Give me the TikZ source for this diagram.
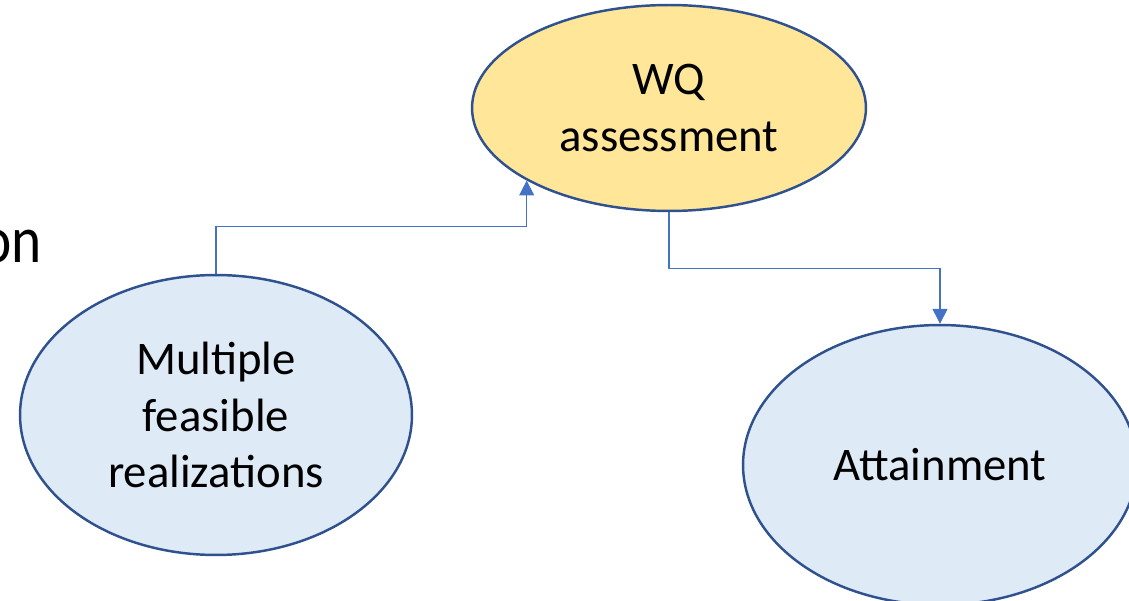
\documentclass[tikz,border=0pt]{standalone}
\usepackage{fontspec}
\setmainfont{Carlito}
\usetikzlibrary{arrows.meta,shapes.geometric}
\definecolor{wqfill}{HTML}{FFE699}
\definecolor{bluefill}{HTML}{DEEBF7}
\definecolor{edgeblue}{HTML}{2F528F}
\definecolor{linkblue}{HTML}{4472C4}
\tikzset{
  bubble/.style={ellipse, draw=edgeblue, line width=1.4pt, align=center, inner sep=0pt,
    font=\fontsize{26.6pt}{32.3pt}\selectfont},
  link/.style={draw=linkblue, line width=0.75pt, -{Triangle[width=8.5pt,length=8.5pt]}},
}
\begin{document}
\begin{tikzpicture}[x=0.02cm,y=-0.02cm]
\useasboundingbox (0,0) rectangle (1129,601);
\clip (0,0) rectangle (1129,601);
\node[bubble, fill=wqfill, minimum width=7.88cm, minimum height=4.12cm] (WQ) at (669,108) {WQ\\assessment};
\node[bubble, fill=bluefill, minimum width=7.84cm, minimum height=5.6cm] (M) at (216,415) {Multiple\\feasible\\realizations};
\node[bubble, fill=bluefill, minimum width=7.88cm, minimum height=5.6cm] (A) at (940,465) {Attainment};
\node[anchor=base east, inner sep=0pt, font=\fontsize{38pt}{46pt}\selectfont] (on) at (42,262) {\scalebox{0.86}[1]{on}};
\draw[link] (M.north) -- ++(0,-47) -| (WQ.207.7);
\draw[link] (WQ.south) -- ++(0,56) -| (A.north);
\end{tikzpicture}
\end{document}
